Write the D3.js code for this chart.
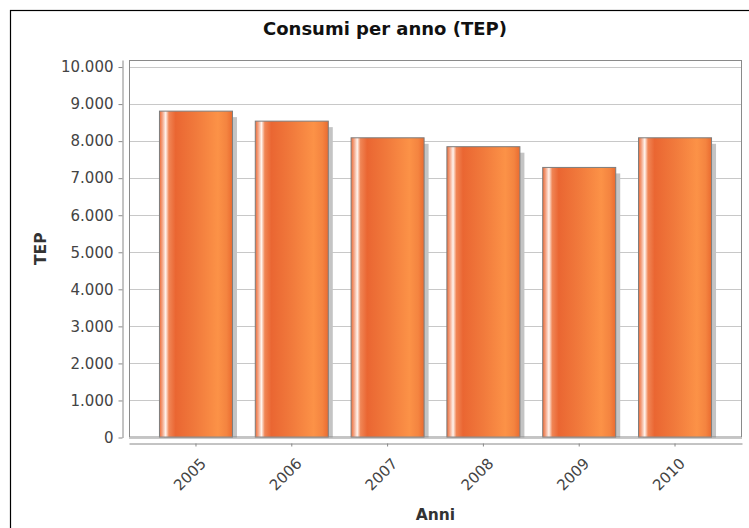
<!DOCTYPE html>
<html>
<head>
<meta charset="utf-8">
<script src="https://cdn.jsdelivr.net/npm/d3@7"></script>
<style>
  body { margin: 0; background: #fff; }
  text { font-family: "DejaVu Sans", sans-serif; }
</style>
</head>
<body>
<div class="container"></div>
<script>
// dati
const anni = ["2005", "2006", "2007", "2008", "2009", "2010"];
const consumi = [8810, 8540, 8090, 7850, 7290, 8090];
const yTicks = [0, 1000, 2000, 3000, 4000, 5000, 6000, 7000, 8000, 9000, 10000];

const W = 749, H = 528;
const plot = { left: 129, right: 742, top: 60, bottom: 437.5 };

const it = d3.formatLocale({ decimal: ",", thousands: ".", grouping: [3], currency: ["€", ""] });
const fmt = it.format(",d");

let svg = d3.select(".container")
  .append("svg")
  .attr("width", W)
  .attr("height", H);

// bordo esterno
svg.append("rect")
  .attr("x", 10.5).attr("y", 10.5)
  .attr("width", W + 20).attr("height", H + 20)
  .attr("fill", "#fff")
  .attr("stroke", "#000")
  .attr("stroke-width", 1.2);

let x = d3.scaleBand()
  .domain(anni)
  .range([plot.left, plot.right])
  .paddingInner(0.238)
  .paddingOuter(0.318);

let y = d3.scaleLinear()
  .domain([0, 10190])
  .range([plot.bottom, plot.top]);

// gradiente delle barre
let defs = svg.append("defs");
let grad = defs.append("linearGradient")
  .attr("id", "barGrad")
  .attr("x1", "0%").attr("x2", "100%")
  .attr("y1", "0%").attr("y2", "0%");
[
  [0, "#ee6a34"], [0.04, "#f3a586"], [0.085, "#fff4ee"], [0.13, "#f08555"],
  [0.22, "#ea6632"], [0.5, "#f17a3c"], [0.8, "#fc9247"], [0.92, "#f48440"], [1, "#ea6b30"]
].forEach(s => grad.append("stop").attr("offset", s[0]).attr("stop-color", s[1]));

defs.append("clipPath").attr("id", "plotClip")
  .append("rect")
  .attr("x", plot.left).attr("y", plot.top)
  .attr("width", plot.right - plot.left).attr("height", plot.bottom - plot.top);

// griglia
svg.append("g")
  .selectAll("line")
  .data(yTicks)
  .enter().append("line")
  .attr("x1", plot.left).attr("x2", plot.right)
  .attr("y1", d => Math.round(y(d)) + 0.5)
  .attr("y2", d => Math.round(y(d)) + 0.5)
  .attr("stroke", "#c8c8c8")
  .attr("stroke-width", 1);

// ombre e barre
let bars = svg.append("g").attr("clip-path", "url(#plotClip)");

bars.selectAll(".shadow")
  .data(consumi)
  .enter().append("rect")
  .attr("class", "shadow")
  .attr("x", (d, i) => x(anni[i]) + 4.5)
  .attr("y", d => y(d) + 6)
  .attr("width", x.bandwidth())
  .attr("height", d => plot.bottom - y(d))
  .attr("fill", "#c4c4c4");

bars.selectAll(".bar")
  .data(consumi)
  .enter().append("rect")
  .attr("class", "bar")
  .attr("x", (d, i) => x(anni[i]))
  .attr("y", d => y(d))
  .attr("width", x.bandwidth())
  .attr("height", d => plot.bottom - y(d))
  .attr("fill", "url(#barGrad)")
  .attr("stroke", "#7d7d7d")
  .attr("stroke-width", 1);

// bordo area del grafico
svg.append("rect")
  .attr("x", plot.left + 0.5).attr("y", plot.top + 0.5)
  .attr("width", plot.right - plot.left - 1)
  .attr("height", plot.bottom - plot.top - 1)
  .attr("fill", "none")
  .attr("stroke", "#8a8a8a");

// asse y
let yAxis = svg.append("g")
  .attr("transform", "translate(122.5,0)")
  .call(d3.axisLeft(y).tickValues(yTicks).tickFormat(fmt).tickSize(4).tickSizeOuter(0).tickPadding(5));
yAxis.select(".domain").attr("stroke", "#888");
yAxis.selectAll(".tick line").attr("stroke", "#888");
yAxis.selectAll(".tick text")
  .attr("fill", "#444")
  .style("font-size", "15px");

// asse x
let xAxis = svg.append("g")
  .attr("transform", "translate(0,443.5)")
  .call(d3.axisBottom(x).tickSize(3).tickSizeOuter(0));
xAxis.select(".domain").attr("stroke", "#888");
xAxis.selectAll(".tick line").attr("stroke", "#888");
xAxis.selectAll(".tick text")
  .attr("fill", "#444")
  .style("font-size", "15px")
  .attr("text-anchor", "end")
  .attr("y", 0)
  .attr("dy", 0)
  .attr("transform", "translate(11,21) rotate(-45)");

// titoli
svg.append("text")
  .attr("x", 385).attr("y", 35)
  .attr("text-anchor", "middle")
  .style("font-size", "18px")
  .style("font-weight", "bold")
  .attr("fill", "#111")
  .text("Consumi per anno (TEP)");

svg.append("text")
  .attr("x", (plot.left + plot.right) / 2).attr("y", 520)
  .attr("text-anchor", "middle")
  .style("font-size", "15.5px")
  .style("font-weight", "bold")
  .attr("fill", "#333")
  .text("Anni");

svg.append("text")
  .attr("transform", `translate(46,${(plot.top + plot.bottom) / 2}) rotate(-90)`)
  .attr("text-anchor", "middle")
  .style("font-size", "15.5px")
  .style("font-weight", "bold")
  .attr("fill", "#333")
  .text("TEP");
</script>
</body>
</html>
